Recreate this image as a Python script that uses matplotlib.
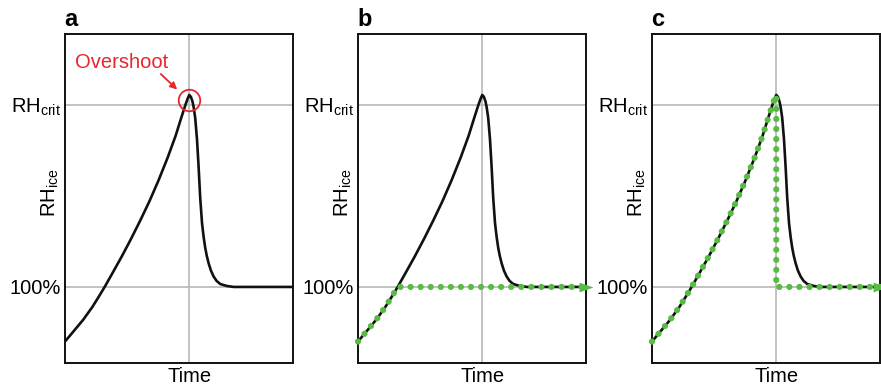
import matplotlib
matplotlib.use("Agg")
import matplotlib.pyplot as plt
import numpy as np

plt.rcParams['font.family'] = ['Liberation Sans', 'DejaVu Sans']
plt.rcParams['mathtext.fontset'] = 'custom'
plt.rcParams['mathtext.rm'] = 'Liberation Sans'
plt.rcParams['mathtext.it'] = 'Liberation Sans'
plt.rcParams['mathtext.default'] = 'regular'

# ---- data (RH_ice in units where 100% = 1, RH_crit = 2) ----
time_pts = [0, 2, 4, 6, 8, 10, 12, 14.5, 17.4, 21, 25, 29, 33, 37, 41, 45,
            48.5, 51, 52.8, 53.8, 54.5, 55.2, 55.9, 56.4, 57.1, 57.9, 58.6,
            59.3, 60.1, 60.8, 61.5, 62.2, 63.0, 64.0, 65.2, 66.5, 68.1, 71.1,
            74, 100]
rh_pts = [0.70, 0.73, 0.76, 0.79, 0.82, 0.855, 0.89, 0.94, 1.0, 1.08, 1.17,
          1.265, 1.365, 1.47, 1.585, 1.71, 1.83, 1.93, 2.0, 2.035, 2.055,
          2.045, 2.02, 1.99, 1.93, 1.81, 1.66, 1.49, 1.35, 1.275, 1.215,
          1.17, 1.13, 1.09, 1.057, 1.033, 1.016, 1.005, 1.0, 1.0]
t_peak = 54.5          # time of nucleation peak (vertical grid line)
t_cross = 17.4         # time when RH_ice first reaches 100 %
rh_sat = 1.0           # 100 %
rh_crit = 2.0          # RH_crit
t_end = 100
ytick_vals = [rh_sat, rh_crit]
ytick_labels = ['100%', 'RH$_{crit}$']
xtick_label = 'Time'
panel_letters = ['a', 'b', 'c']

time_pts = np.array(time_pts)
rh_pts = np.array(rh_pts)

# green "model" paths built from the data
mask_b = time_pts <= t_cross
green_b_x = list(time_pts[mask_b]) + [t_end]
green_b_y = list(rh_pts[mask_b]) + [rh_sat]
mask_c = time_pts <= t_peak
green_c_x = list(time_pts[mask_c]) + [t_peak, t_end]
green_c_y = list(rh_pts[mask_c]) + [rh_sat, rh_sat]

GREEN = '#58bb44'
RED = '#e8262c'
GRID = '#b8b8b8'

fig = plt.figure(figsize=(8.81, 3.87), dpi=100)
W, H = 881, 387
lefts = [65, 358, 652]
aw, top, bot = 228, 34, 363

arrow_marker = [(-1, -0.7), (1, 0), (-1, 0.7), (-1, -0.7)]

for i, L in enumerate(lefts):
    ax = fig.add_axes([L / W, 1 - bot / H, aw / W, (bot - top) / H])
    ax.set_xlim(0, t_end)
    ax.set_ylim(0.582, 2.39)
    for v in ytick_vals:
        ax.axhline(v, color=GRID, lw=1.2, zorder=1)
    ax.axvline(t_peak, color=GRID, lw=1.2, zorder=1)
    ax.plot(time_pts, rh_pts, color='#111111', lw=1.9, zorder=3,
            solid_joinstyle='round', solid_capstyle='round')
    if i == 1:
        gx, gy = green_b_x, green_b_y
    elif i == 2:
        gx, gy = green_c_x, green_c_y
    else:
        gx = gy = None
    if gx is not None:
        ax.plot(gx, gy, color=GREEN, lw=4.5, linestyle=(0, (0.01, 1.6)),
                dash_capstyle='round', zorder=4, clip_on=False)
        ax.plot([gx[-1]], [gy[-1]], marker=arrow_marker, markersize=10,
                color=GREEN, markeredgewidth=0, zorder=5, clip_on=False)
    ax.set_yticks(ytick_vals)
    ax.set_yticklabels(ytick_labels)
    ax.set_xticks([t_peak])
    ax.set_xticklabels([xtick_label])
    ax.tick_params(axis='both', length=0, labelsize=14.5)
    ax.tick_params(axis='y', pad=3)
    ax.tick_params(axis='x', pad=3)
    for s in ax.spines.values():
        s.set_linewidth(1.4)
        s.set_color('#111111')
    ax.text(-0.066, 0.517, 'RH$_{ice}$', transform=ax.transAxes, rotation=90,
            ha='center', va='center', fontsize=14.5)
    ax.text(-0.004, 1.024, panel_letters[i], transform=ax.transAxes,
            fontsize=17, fontweight='bold', ha='left', va='baseline')
    if i == 0:
        pk = int(np.argmax(rh_pts))
        ax.plot([time_pts[pk]], [rh_pts[pk] - 0.03], marker='o', markersize=15.5,
                markerfacecolor='none', markeredgecolor=RED, markeredgewidth=1.3,
                zorder=6)
        ax.annotate('', xy=(49.2, 2.085), xytext=(42.0, 2.17),
                    arrowprops=dict(arrowstyle='-|>', color=RED, lw=1.3,
                                    mutation_scale=10, shrinkA=0, shrinkB=0))
        ax.text(25, 2.235, 'Overshoot', color=RED, fontsize=14.5,
                ha='center', va='center')

fig.savefig('out.png', dpi=100)
